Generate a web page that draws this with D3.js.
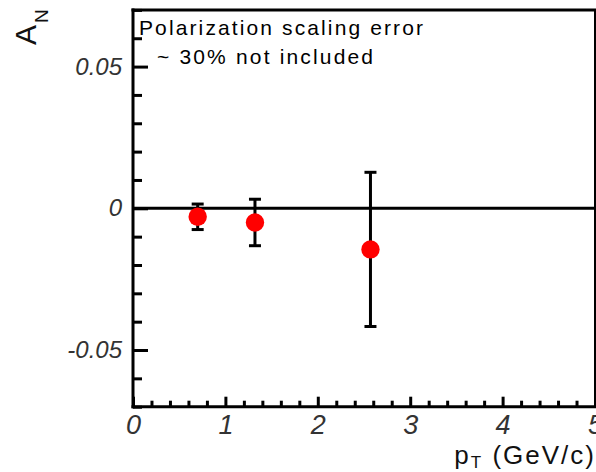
<!DOCTYPE html>
<html>
<head>
<meta charset="utf-8">
<script src="https://cdn.jsdelivr.net/npm/d3@7"></script>
<style>
  html, body { margin: 0; padding: 0; background: #fff; }
  svg { display: block; }
  text { font-family: "Liberation Sans", Arial, sans-serif; }
</style>
</head>
<body>
<script>
// ---- data ----
const ptValues = [0.7, 1.32, 2.57];
const anValues = [-0.003, -0.005, -0.0145];
const anErrors = [0.0045, 0.0082, 0.0272];
const xMajorTicks = [0, 1, 2, 3, 4, 5];
const xTickLabels = ["0", "1", "2", "3", "4", "5"];
const yMajorTicks = [-0.05, 0, 0.05];
const yTickLabels = ["-0.05", "0", "0.05"];
const xMinorTicks = d3.range(0, 5.001, 0.2).filter(v => Math.abs(v - Math.round(v)) > 1e-6);
const yMinorTicks = d3.range(-0.07, 0.0701, 0.01).map(v => +v.toFixed(3)).filter(v => Math.abs(v * 20 - Math.round(v * 20)) > 1e-6);
const noteLines = ["Polarization scaling error", "~ 30% not included"];

const W = 596, H = 472;
const svg = d3.select("body").append("svg").attr("width", W).attr("height", H);

const x = d3.scaleLinear().domain([0, 5]).range([133, 595]);
const y = d3.scaleLinear().domain([-0.07, 0.07]).range([406.7, 9.9]);

// y axis minor ticks
svg.append("g").attr("transform", `translate(${x(0)},0)`)
  .call(d3.axisLeft(y).tickValues(yMinorTicks).tickSize(-9).tickFormat(""))
  .call(g => g.select(".domain").remove())
  .call(g => g.selectAll("line").attr("stroke", "#000").attr("stroke-width", 3));

// y axis major ticks + labels
svg.append("g").attr("transform", `translate(${x(0)},0)`)
  .call(d3.axisLeft(y).tickValues(yMajorTicks).tickSize(-15).tickPadding(11)
    .tickFormat((d, i) => yTickLabels[i]))
  .call(g => g.select(".domain").remove())
  .call(g => g.selectAll("line").attr("stroke", "#000").attr("stroke-width", 3))
  .call(g => g.selectAll("text").attr("font-size", 24).attr("font-style", "italic")
    .attr("fill", "#333").attr("font-family", "Liberation Sans, Arial, sans-serif"));

// x axis minor ticks
svg.append("g").attr("transform", `translate(0,${y(-0.07)})`)
  .call(d3.axisBottom(x).tickValues(xMinorTicks).tickSize(-6).tickFormat(""))
  .call(g => g.select(".domain").remove())
  .call(g => g.selectAll("line").attr("stroke", "#000").attr("stroke-width", 3));

// x axis major ticks + labels
svg.append("g").attr("transform", `translate(0,${y(-0.07)})`)
  .call(d3.axisBottom(x).tickValues(xMajorTicks).tickSize(-10).tickPadding(8)
    .tickFormat((d, i) => xTickLabels[i]))
  .call(g => g.select(".domain").remove())
  .call(g => g.selectAll("line").attr("stroke", "#000").attr("stroke-width", 3))
  .call(g => g.selectAll("text").attr("font-size", 27).attr("font-style", "italic")
    .attr("fill", "#333").attr("font-family", "Liberation Sans, Arial, sans-serif"));

// frame
const frame = svg.append("g").attr("stroke", "#000").attr("fill", "none");
frame.append("line").attr("x1", x(0)).attr("x2", x(0)).attr("y1", y(0.07) - 1.5).attr("y2", y(-0.07) + 1.5).attr("stroke-width", 3);
frame.append("line").attr("x1", x(0) - 1.5).attr("x2", x(5) + 1).attr("y1", y(-0.07)).attr("y2", y(-0.07)).attr("stroke-width", 3);
frame.append("line").attr("x1", x(0) - 1.5).attr("x2", x(5) + 1).attr("y1", y(0.07)).attr("y2", y(0.07)).attr("stroke-width", 3);
frame.append("line").attr("x1", x(5)).attr("x2", x(5)).attr("y1", y(0.07)).attr("y2", y(-0.07)).attr("stroke-width", 2);

// zero line
svg.append("line").attr("x1", x(0)).attr("x2", x(5)).attr("y1", y(0)).attr("y2", y(0))
  .attr("stroke", "#000").attr("stroke-width", 3);

// error bars
const pts = ptValues.map((v, i) => ({ x: v, y: anValues[i], e: anErrors[i] }));
const eb = svg.append("g").attr("stroke", "#000").attr("stroke-width", 3);
eb.selectAll("line.v").data(pts).join("line").attr("class", "v")
  .attr("x1", d => x(d.x)).attr("x2", d => x(d.x))
  .attr("y1", d => y(d.y + d.e)).attr("y2", d => y(d.y - d.e));
eb.selectAll("line.t").data(pts).join("line").attr("class", "t")
  .attr("x1", d => x(d.x) - 6).attr("x2", d => x(d.x) + 6)
  .attr("y1", d => y(d.y + d.e)).attr("y2", d => y(d.y + d.e));
eb.selectAll("line.b").data(pts).join("line").attr("class", "b")
  .attr("x1", d => x(d.x) - 6).attr("x2", d => x(d.x) + 6)
  .attr("y1", d => y(d.y - d.e)).attr("y2", d => y(d.y - d.e));

// markers
svg.append("g").selectAll("circle").data(pts).join("circle")
  .attr("cx", d => x(d.x)).attr("cy", d => y(d.y)).attr("r", 9.2)
  .attr("fill", "#ff0000");

// note
svg.append("text").attr("x", 139).attr("y", 35).attr("font-size", 21)
  .attr("textLength", 284).attr("lengthAdjust", "spacing").text(noteLines[0]);
svg.append("text").attr("x", 157).attr("y", 64).attr("font-size", 21)
  .attr("textLength", 216).attr("lengthAdjust", "spacing").text(noteLines[1]);

// y title A_N (rotated)
const ytg = svg.append("g").attr("transform", "translate(36,45) rotate(-90)");
ytg.append("text").attr("x", 0).attr("y", 0).attr("font-size", 30).attr("fill", "#111").text("A");
ytg.append("text").attr("x", 22).attr("y", 12).attr("font-size", 19).attr("fill", "#111").text("N");

// x title p_T (GeV/c)
const xt = svg.append("text").attr("x", 596).attr("y", 464).attr("text-anchor", "end")
  .attr("font-size", 26).attr("letter-spacing", 2).attr("fill", "#111");
xt.append("tspan").text("p");
xt.append("tspan").attr("font-size", 17).attr("dy", 4).text("T");
xt.append("tspan").attr("dy", -4).text(" (GeV/c)");
</script>
</body>
</html>
